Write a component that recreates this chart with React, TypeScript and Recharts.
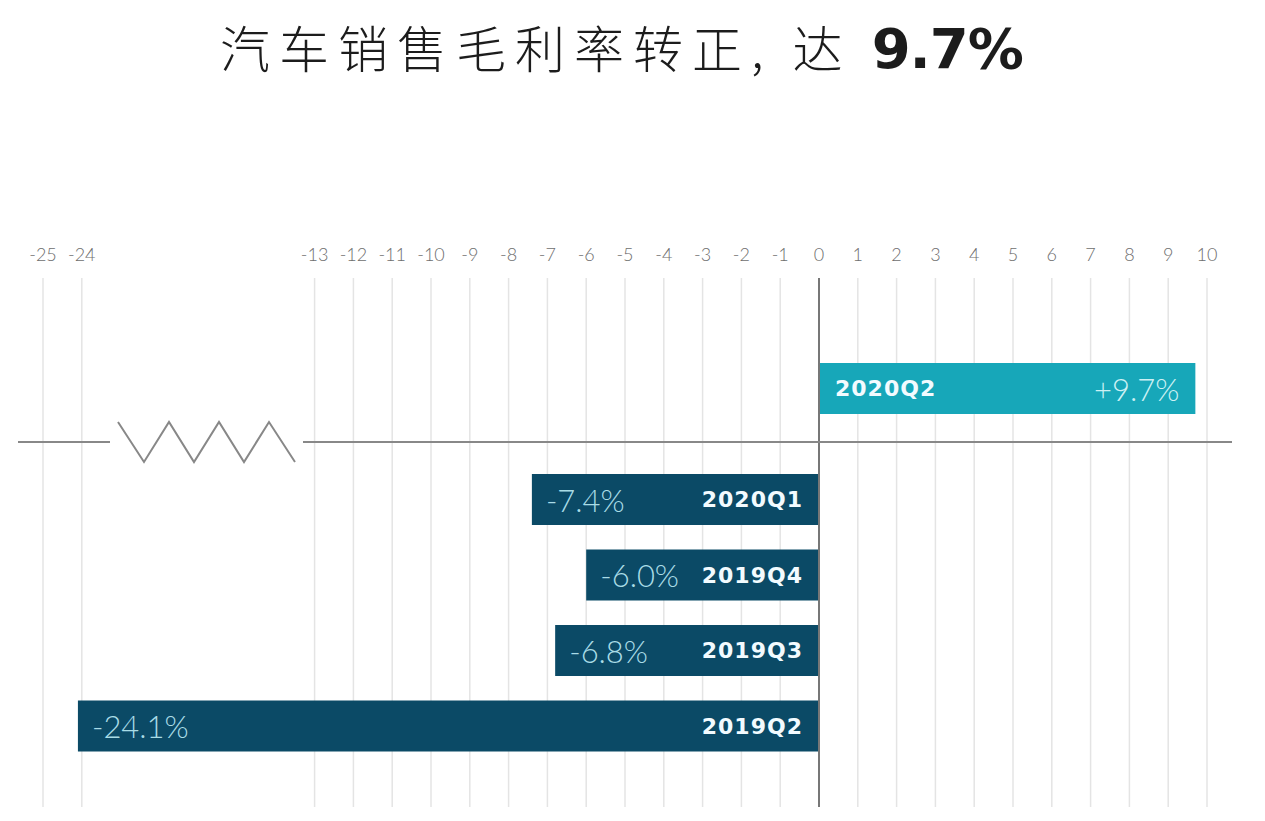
import { BarChart, Bar, XAxis, YAxis, CartesianGrid, ReferenceLine, LabelList } from "recharts";

const quarters = ["2020Q2", "2020Q1", "2019Q4", "2019Q3", "2019Q2"];
const grossMargins = [9.7, -7.4, -6.0, -6.8, -24.1];
const marginLabels = ["+9.7%", "-7.4%", "-6.0%", "-6.8%", "-24.1%"];
const axisTicks = [-25, -24, -13, -12, -11, -10, -9, -8, -7, -6, -5, -4, -3, -2, -1, 0, 1, 2, 3, 4, 5, 6, 7, 8, 9, 10];

// the axis is cut between -24 and -13, everything left of the cut moves right by 5
const CUT_AT = -13;
const CUT = 5;
const toAxis = (v: number) => (v >= CUT_AT ? v : v + CUT);
const fromAxis = (d: number) => (d >= CUT_AT ? d : d - CUT);

const rows = quarters.map((q, i) => ({
  quarter: q,
  value: grossMargins[i],
  pos: toAxis(grossMargins[i]),
  label: marginLabels[i],
}));
const upRows = rows.filter((r) => r.value > 0);
const downRows = rows.filter((r) => r.value < 0);
const ticks = axisTicks.map(toAxis);

const TEAL = "#17a7b9";
const NAVY = "#0b4a66";
const W = 1265;
const margin = { left: 18, right: 33 };

const makeLabel = (list: typeof rows) => (props: any) => {
  const { x, y, width, height, index } = props;
  const r = list[index];
  if (!r) return null;
  const left = Math.min(x, x + width);
  const right = Math.max(x, x + width);
  const cy = y + height / 2;
  const cat = { fill: "#f2fbff", fontSize: 22, fontWeight: 700, fontFamily: "DejaVu Sans", letterSpacing: 1 };
  const val = { fontSize: 31, fontWeight: 300, fontFamily: "Lato" };
  if (r.value > 0) {
    return (
      <g>
        <text x={left + 16} y={cy} dominantBaseline="central" {...cat}>{r.quarter}</text>
        <text x={right - 16} y={cy} dominantBaseline="central" textAnchor="end" fill="#cdf1f4" {...val}>{r.label}</text>
      </g>
    );
  }
  return (
    <g>
      <text x={left + 14} y={cy} dominantBaseline="central" fill="#a9dce6" {...val}>{r.label}</text>
      <text x={right - 16} y={cy} dominantBaseline="central" textAnchor="end" {...cat}>{r.quarter}</text>
    </g>
  );
};

const xAxisProps = {
  type: "number" as const,
  dataKey: "pos",
  domain: [-20, 10],
  ticks,
  interval: 0 as const,
  padding: { left: 25, right: 25 },
  allowDataOverflow: true,
  tickFormatter: (d: number) => String(fromAxis(d)),
};

export default function App() {
  return (
    <div style={{ position: "relative", width: W, height: 821, background: "#fff" }}>
      <style>{`body{margin:0}`}</style>
      <div
        style={{
          position: "absolute",
          left: 220,
          top: 14,
          fontSize: 50,
          lineHeight: "64px",
          color: "#1c1c1c",
          whiteSpace: "nowrap",
          fontFamily: "'Noto Sans CJK SC', sans-serif",
          fontWeight: 300,
          letterSpacing: 9,
        }}
      >
        汽车销售毛利率转正, 达{" "}
        <span style={{ fontFamily: "'DejaVu Sans'", fontWeight: 700, fontSize: 56, letterSpacing: -1 }}>9.7%</span>
      </div>

      <div style={{ position: "absolute", left: 0, top: 220 }}>
        <BarChart width={W} height={221} data={upRows} layout="vertical" margin={{ ...margin, top: 28, bottom: 0 }}>
          <CartesianGrid horizontal={false} syncWithTicks stroke="#e4e4e4" strokeWidth={1.5} />
          <XAxis
            {...xAxisProps}
            orientation="top"
            height={30}
            axisLine={false}
            tickLine={false}
            tickSize={0}
            tickMargin={17}
            tick={{ fill: "#6e6e6e", fontSize: 18, fontFamily: "Lato", fontWeight: 300 }}
          />
          <YAxis type="category" dataKey="quarter" hide padding={{ top: 58, bottom: 0 }} />
          <ReferenceLine x={0} stroke="#777" strokeWidth={2} />
          <Bar dataKey="pos" fill={TEAL} barSize={51} isAnimationActive={false}>
            <LabelList dataKey="quarter" content={makeLabel(upRows)} />
          </Bar>
        </BarChart>
      </div>

      <div style={{ position: "absolute", left: 0, top: 441 }}>
        <BarChart width={W} height={366} data={downRows} layout="vertical" margin={{ ...margin, top: 0, bottom: 0 }}>
          <CartesianGrid horizontal={false} syncWithTicks stroke="#e4e4e4" strokeWidth={1.5} />
          <XAxis {...xAxisProps} hide />
          <YAxis type="category" dataKey="quarter" hide padding={{ top: 21, bottom: 43 }} />
          <ReferenceLine x={0} stroke="#777" strokeWidth={2} />
          <Bar dataKey="pos" fill={NAVY} barSize={51} isAnimationActive={false}>
            <LabelList dataKey="quarter" content={makeLabel(downRows)} />
          </Bar>
        </BarChart>
      </div>

      {/* baseline with the axis-break zigzag */}
      <svg width={W} height={821} style={{ position: "absolute", left: 0, top: 0, pointerEvents: "none" }}>
        <g stroke="#888" strokeWidth={2} fill="none">
          <line x1={18} y1={442} x2={110} y2={442} />
          <polyline points="118,422 144,462 169,422 194,462 219,422 244,462 269,422 295,462" />
          <line x1={303} y1={442} x2={1232} y2={442} />
        </g>
      </svg>
    </div>
  );
}
